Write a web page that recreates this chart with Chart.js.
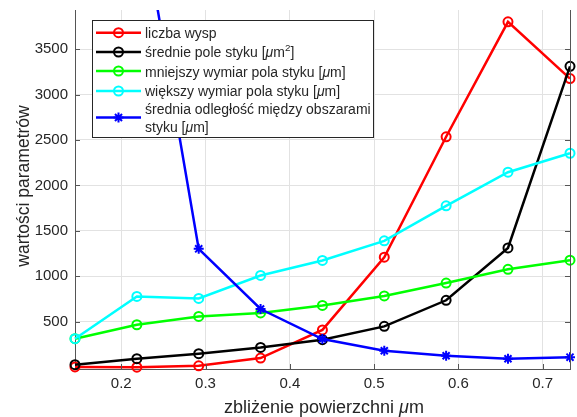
<!DOCTYPE html>
<html>
<head>
<meta charset="utf-8">
<script src="https://cdn.jsdelivr.net/npm/chart.js@4"></script>
<style>
  html, body { margin: 0; padding: 0; background: #fff; }
  canvas { display: block; }
</style>
</head>
<body>
<canvas id="chart" width="577" height="417"></canvas>
<script>
// zbliżenie powierzchni [um]
const approach = [0.1451, 0.2185, 0.2919, 0.3653, 0.4387, 0.5121, 0.5855, 0.6589, 0.7325];

const islandCount = [3, 0, 15, 100, 410, 1210, 2535, 3800, 3175];
const meanArea = [27, 93, 148, 217, 303, 449, 736, 1312, 3310];
const minorSize = [313, 467, 558, 597, 679, 784, 926, 1077, 1177];
const majorSize = [313, 778, 756, 1009, 1174, 1390, 1775, 2145, 2354];
const meanDistance = [11000, 5270, 1302, 640, 310, 181, 126, 93, 110];

const xTicks = [0.2, 0.3, 0.4, 0.5, 0.6, 0.7];
const yTicks = [500, 1000, 1500, 2000, 2500, 3000, 3500];

const FONT = "'Liberation Sans', Arial, Helvetica, sans-serif";
const TEXT = '#262626';
const AXIS = '#555555';

function pts(ys) {
    return ys.map((y, i) => ({ x: approach[i], y: y }));
}

function series(label, ys, color, style, order) {
    return {
        label: label,
        data: pts(ys),
        borderColor: color,
        backgroundColor: color,
        borderWidth: 2.5,
        pointStyle: style,
        pointRadius: style === 'star' ? 5 : 4.5,
        pointBorderWidth: 2,
        pointBackgroundColor: 'rgba(0,0,0,0)',
        pointBorderColor: color,
        tension: 0,
        order: order,
        clip: { left: 6, right: 6, top: 0, bottom: 6 }
    };
}

// legend text, split into runs so that the mu can be italic and the 2 raised
const legendRows = [
    { color: '#ff0000', style: 'circle', lines: [['liczba wysp']] },
    { color: '#000000', style: 'circle', lines: [['średnie pole styku [', { t: 'μ', it: true }, 'm', { t: '2', sup: true }, ']']] },
    { color: '#00ff00', style: 'circle', lines: [['mniejszy wymiar pola styku [', { t: 'μ', it: true }, 'm]']] },
    { color: '#00ffff', style: 'circle', lines: [['większy wymiar pola styku [', { t: 'μ', it: true }, 'm]']] },
    { color: '#0000ff', style: 'star', lines: [['średnia odległość między obszarami'], ['styku [', { t: 'μ', it: true }, 'm]']] }
];

function runWidth(ctx, runs, size) {
    let w = 0;
    runs.forEach(r => {
        const o = typeof r === 'string' ? { t: r } : r;
        ctx.font = (o.it ? 'italic ' : '') + (o.sup ? size * 0.7 : size) + 'px ' + FONT;
        w += ctx.measureText(o.t).width;
    });
    return w;
}

function drawRuns(ctx, runs, x, y, size) {
    ctx.textBaseline = 'alphabetic';
    ctx.textAlign = 'left';
    runs.forEach(r => {
        const o = typeof r === 'string' ? { t: r } : r;
        ctx.font = (o.it ? 'italic ' : '') + (o.sup ? size * 0.7 : size) + 'px ' + FONT;
        ctx.fillText(o.t, x, o.sup ? y - size * 0.42 : y);
        x += ctx.measureText(o.t).width;
    });
}

function marker(ctx, style, x, y, color) {
    ctx.strokeStyle = color;
    ctx.lineWidth = 2;
    ctx.beginPath();
    if (style === 'circle') {
        ctx.arc(x, y, 4.5, 0, Math.PI * 2);
    } else {
        const r = 5, d = r * Math.SQRT1_2;
        ctx.moveTo(x - r, y); ctx.lineTo(x + r, y);
        ctx.moveTo(x, y - r); ctx.lineTo(x, y + r);
        ctx.moveTo(x - d, y - d); ctx.lineTo(x + d, y + d);
        ctx.moveTo(x - d, y + d); ctx.lineTo(x + d, y - d);
    }
    ctx.stroke();
}

const decorations = {
    id: 'decorations',
    afterDraw(chart) {
        const ctx = chart.ctx;
        const a = chart.chartArea;
        const xs = chart.scales.x, ys = chart.scales.y;
        ctx.save();

        // right axis line and inward tick marks
        ctx.strokeStyle = AXIS;
        ctx.lineWidth = 1;
        ctx.beginPath();
        ctx.moveTo(a.right + 0.5, a.top);
        ctx.lineTo(a.right + 0.5, a.bottom);
        yTicks.forEach(v => {
            const y = Math.round(ys.getPixelForValue(v)) + 0.5;
            ctx.moveTo(a.left, y); ctx.lineTo(a.left + 5, y);
            ctx.moveTo(a.right, y); ctx.lineTo(a.right - 5, y);
        });
        xTicks.forEach(v => {
            const x = Math.round(xs.getPixelForValue(v)) + 0.5;
            ctx.moveTo(x, a.bottom); ctx.lineTo(x, a.bottom - 5);
        });
        ctx.stroke();

        // axis titles
        ctx.fillStyle = TEXT;
        const xt = ['zbliżenie powierzchni ', { t: 'μ', it: true }, 'm'];
        const w = runWidth(ctx, xt, 18);
        drawRuns(ctx, xt, 324 - w / 2, 413, 18);

        ctx.save();
        ctx.translate(29, 186);
        ctx.rotate(-Math.PI / 2);
        ctx.font = '17.5px ' + FONT;
        ctx.textAlign = 'center';
        ctx.textBaseline = 'alphabetic';
        ctx.fillText('wartości parametrów', 0, 0);
        ctx.restore();

        // legend box
        const bx = 92, by = 20, bw = 281, bh = 117;
        ctx.fillStyle = '#ffffff';
        ctx.fillRect(bx, by, bw, bh);
        ctx.strokeStyle = TEXT;
        ctx.lineWidth = 1;
        ctx.strokeRect(bx + 0.5, by + 0.5, bw, bh);

        const baselines = [[37.5], [57], [76.5], [96], [114, 132]];
        const sampleY = [32.7, 52, 71, 91, 117.5];
        legendRows.forEach((row, i) => {
            ctx.strokeStyle = row.color;
            ctx.lineWidth = 2.5;
            ctx.beginPath();
            ctx.moveTo(96, sampleY[i]);
            ctx.lineTo(141, sampleY[i]);
            ctx.stroke();
            marker(ctx, row.style, 118.5, sampleY[i], row.color);
            ctx.fillStyle = TEXT;
            row.lines.forEach((runs, j) => drawRuns(ctx, runs, 145, baselines[i][j], 14));
        });
        ctx.restore();
    }
};

new Chart(document.getElementById('chart'), {
    type: 'line',
    data: {
        datasets: [
            series('liczba wysp', islandCount, '#ff0000', 'circle', 4),
            series('średnie pole styku [μm2]', meanArea, '#000000', 'circle', 3),
            series('mniejszy wymiar pola styku [μm]', minorSize, '#00ff00', 'circle', 2),
            series('większy wymiar pola styku [μm]', majorSize, '#00ffff', 'circle', 1),
            series('średnia odległość między obszarami styku [μm]', meanDistance, '#0000ff', 'star', 0)
        ]
    },
    options: {
        responsive: false,
        animation: false,
        devicePixelRatio: 1,
        layout: { padding: { top: 10, right: 3, left: 0, bottom: 0 } },
        plugins: {
            legend: { display: false },
            tooltip: { enabled: false }
        },
        scales: {
            x: {
                type: 'linear',
                min: 0.1451,
                max: 0.7325,
                afterBuildTicks: s => { s.ticks = xTicks.map(v => ({ value: v })); },
                afterFit: s => { s.height = 48; s.paddingLeft = 0; s.paddingRight = 0; },
                ticks: {
                    callback: v => v.toFixed(1),
                    color: TEXT,
                    font: { family: FONT, size: 15 },
                    padding: 6,
                    maxRotation: 0
                },
                grid: { color: '#e2e2e2', lineWidth: 1, drawTicks: false },
                border: { color: AXIS, width: 1 }
            },
            y: {
                min: -20,
                max: 3930,
                afterBuildTicks: s => { s.ticks = yTicks.map(v => ({ value: v })); },
                afterFit: s => { s.width = 75; s.paddingTop = 0; s.paddingBottom = 0; },
                ticks: {
                    callback: v => String(v),
                    color: TEXT,
                    font: { family: FONT, size: 15 },
                    padding: 7
                },
                grid: { color: '#e2e2e2', lineWidth: 1, drawTicks: false },
                border: { color: AXIS, width: 1 }
            }
        }
    },
    plugins: [decorations]
});
</script>
</body>
</html>
